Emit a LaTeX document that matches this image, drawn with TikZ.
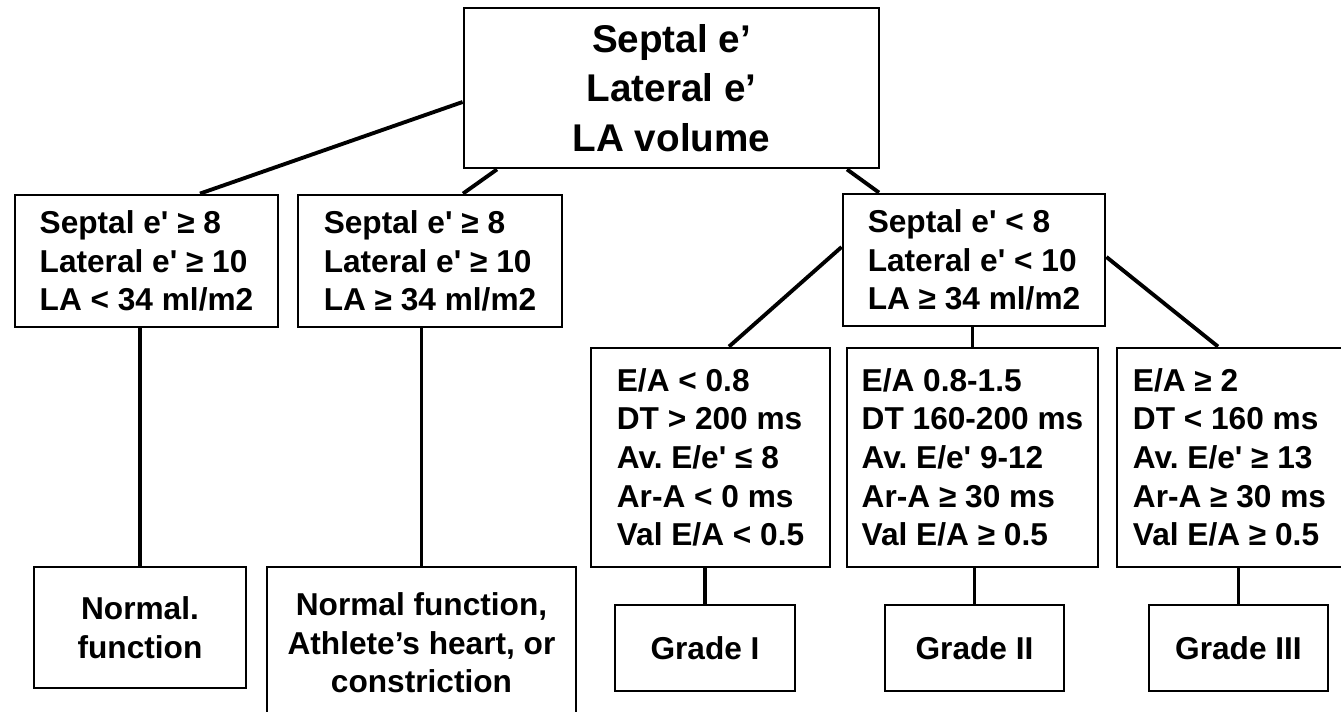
\documentclass[tikz,border=0pt]{standalone}
\usepackage{fontspec}
\setmainfont{Liberation Sans}
\usetikzlibrary{calc}
\newcommand{\sq}{\textquotesingle}
\frenchspacing

\begin{document}
\begin{tikzpicture}[
    box/.style={draw, line width=1.6pt, align=left, inner sep=0pt, font=\bfseries\fontsize{18}{22}\selectfont},
    link/.style={line width=2.2pt}]
    % Page
    \useasboundingbox (0,0) rectangle (26.82,-14.24);

    % Top question
    \node[box, align=center, minimum width=8.3cm, minimum height=3.2cm, font=\bfseries\fontsize{22}{28}\selectfont] (top) at (13.43,-1.76) {Septal e’\\Lateral e’\\LA volume};

    % Second row
    \node[box, minimum width=5.26cm, minimum height=2.64cm] (hi1) at (2.93,-5.22) {Septal e\sq{} ≥ 8\\Lateral e\sq{} ≥ 10\\LA < 34 ml/m2};
    \node[box, minimum width=5.28cm, minimum height=2.64cm] (hi2) at (8.60,-5.22) {Septal e\sq{} ≥ 8\\Lateral e\sq{} ≥ 10\\LA ≥ 34 ml/m2};
    \node[box, minimum width=5.24cm, minimum height=2.64cm] (lo) at (19.48,-5.20) {Septal e\sq{} < 8\\Lateral e\sq{} < 10\\LA ≥ 34 ml/m2};

    % Third row
    \node[box, minimum width=4.78cm, minimum height=4.38cm] (ea1) at (14.21,-9.15) {E/A < 0.8\\DT > 200 ms\\Av. E/e\sq{} ≤ 8\\Ar-A < 0 ms\\Val E/A < 0.5};
    \node[box, minimum width=5.02cm, minimum height=4.38cm] (ea2) at (19.45,-9.15) {E/A 0.8-1.5\\DT 160-200 ms\\Av. E/e\sq{} 9-12\\Ar-A ≥ 30 ms\\Val E/A ≥ 0.5};
    \node[box, minimum width=4.50cm, minimum height=4.38cm] (ea3) at (24.59,-9.15) {E/A ≥ 2\\DT < 160 ms\\Av. E/e\sq{} ≥ 13\\Ar-A ≥ 30 ms\\Val E/A ≥ 0.5};

    % Results
    \node[box, align=center, minimum width=4.24cm, minimum height=2.42cm] (res1) at (2.80,-12.55) {Normal.\\function};
    \node[box, align=center, minimum width=6.18cm, minimum height=3.04cm] (res2) at (8.43,-12.86) {Normal function,\\Athlete’s heart, or\\constriction};
    \node[box, align=center, minimum width=3.60cm, minimum height=1.72cm] (gr1) at (14.10,-12.96) {Grade I};
    \node[box, align=center, minimum width=3.58cm, minimum height=1.72cm] (gr2) at (19.49,-12.96) {Grade II};
    \node[box, align=center, minimum width=3.58cm, minimum height=1.72cm] (gr3) at (24.77,-12.96) {Grade III};

    % Connectors
    \draw[link] ($(top.west)+(0,-0.28)$) -- ($(hi1.north)+(1.07,0)$);
    \draw[link] ($(top.south)+(-3.49,0)$) -- ($(hi2.north)+(0.66,0)$);
    \draw[link] ($(top.south)+(3.51,0)$) -- ($(lo.north)+(-1.90,0)$);

    \draw[link] ($(lo.west)+(0,0.26)$) -- ($(ea1.north)+(0.37,0)$);
    \draw[link] (ea2.north) -- (ea2.north |- lo.south);
    \draw[link] ($(lo.east)+(0,0.06)$) -- ($(ea3.north)+(-0.23,0)$);

    \draw[link] (res1.north) -- (res1.north |- hi1.south);
    \draw[link] (res2.north) -- (res2.north |- hi2.south);
    \draw[link] (gr1.north) -- (gr1.north |- ea1.south);
    \draw[link] (gr2.north) -- (gr2.north |- ea2.south);
    \draw[link] (gr3.north) -- (gr3.north |- ea3.south);

\end{tikzpicture}
\end{document}
